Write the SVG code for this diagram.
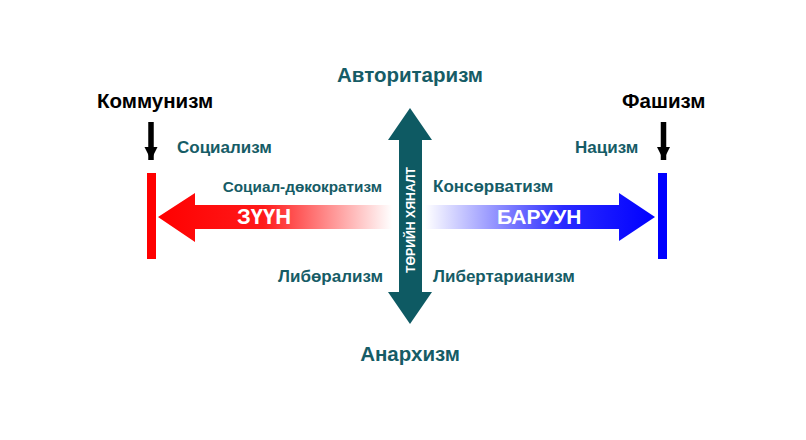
<svg xmlns="http://www.w3.org/2000/svg" width="806" height="440" viewBox="0 0 806 440">
<defs>
<linearGradient id="gRed" x1="158" y1="0" x2="392" y2="0" gradientUnits="userSpaceOnUse">
<stop offset="0" stop-color="#ff0000"/>
<stop offset="0.45" stop-color="#ff1a1a"/>
<stop offset="1" stop-color="#ffffff"/>
</linearGradient>
<linearGradient id="gBlue" x1="425" y1="0" x2="655" y2="0" gradientUnits="userSpaceOnUse">
<stop offset="0" stop-color="#ffffff"/>
<stop offset="0.6" stop-color="#2a2aff"/>
<stop offset="1" stop-color="#0000ff"/>
</linearGradient>
<marker id="down" viewBox="0 0 10 10" refX="10" refY="5" markerWidth="2.4" markerHeight="2.4" orient="auto" markerUnits="strokeWidth">
<path d="M0,0 L10,5 L0,10 Z" fill="#000"/>
</marker>
<style>
.big{font-family:"Liberation Sans",Arial,sans-serif;font-weight:bold;font-size:20.5px;}
.teal{fill:#165c66;}
.blk{fill:#000;}
.sm{font-family:"Liberation Sans",Arial,sans-serif;font-weight:bold;font-size:17px;fill:#165c66;}
.wh{font-family:"Liberation Sans",Arial,sans-serif;font-weight:bold;font-size:21px;fill:#fff;}
.ptr{stroke:#000;stroke-width:5.5;fill:none;}
</style>
</defs>
<rect width="806" height="440" fill="#fff"/>

<g id="left-arrow">
<polygon points="158,217 195,193 195,205 392,205 392,229 195,229 195,242" fill="url(#gRed)"/>
<text class="wh" x="237" y="224" style="font-size:22px">ЗҮҮН</text>
</g>
<g id="right-arrow">
<polygon points="425,205 619,205 619,193 655,217 619,241 619,229 425,229" fill="url(#gBlue)"/>
<text class="wh" x="497" y="224">БАРУУН</text>
</g>
<g id="left-bar"><rect x="147" y="173" width="9" height="86" fill="#ff0000"/></g>
<g id="right-bar"><rect x="658" y="173" width="9" height="86" fill="#0000ff"/></g>

<g id="vertical-arrow">
<polygon points="410,108 432,140 422,140 422,292 432,292 410,324 388,292 399,292 399,140 388,140" fill="#0e5a63"/>
<text class="wh" style="font-size:13px" transform="translate(414.5,220) rotate(-90)" text-anchor="middle" textLength="106" lengthAdjust="spacingAndGlyphs">ТӨРИЙН ХЯНАЛТ</text>
</g>

<g id="labels">
<text class="big teal" x="410" y="82" text-anchor="middle">Авторитаризм</text>
<text class="big teal" x="410" y="361" text-anchor="middle">Анархизм</text>
<text class="big blk" x="97" y="108">Коммунизм</text>
<text class="big blk" x="622" y="108">Фашизм</text>
<text class="sm" x="177" y="153">Социализм</text>
<text class="sm" x="575" y="153">Нацизм</text>
<text class="sm" x="382" y="192" text-anchor="end" style="font-size:15.3px">Социал-дөкократизм</text>
<text class="sm" x="433" y="192">Консөрватизм</text>
<text class="sm" x="383" y="282" text-anchor="end">Либөрализм</text>
<text class="sm" x="433" y="282">Либертарианизм</text>
</g>

<g id="connectors">
<line class="ptr" x1="151" y1="122" x2="151" y2="160" marker-end="url(#down)"/>
<line class="ptr" x1="663.5" y1="122" x2="663.5" y2="160" marker-end="url(#down)"/>
</g>
</svg>
